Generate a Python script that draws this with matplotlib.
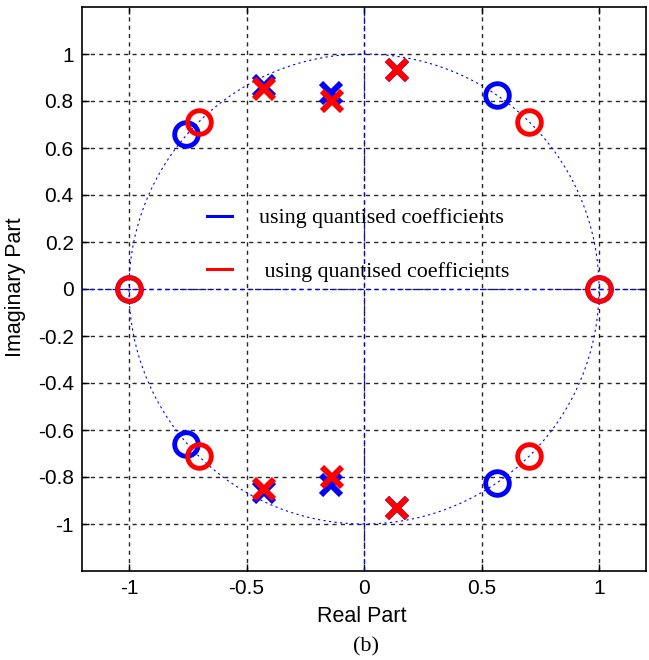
import numpy as np
import matplotlib
matplotlib.use("Agg")
import matplotlib.pyplot as plt
from matplotlib.lines import Line2D

# Zeros (o) and poles (x): ideal vs quantised coefficients
zeros_blue_re = [-0.758, 0.567, -1.0, 1.0, -0.758, 0.567]
zeros_blue_im = [0.658, 0.825, 0.0, 0.0, -0.658, -0.825]
zeros_red_re = [-0.703, 0.703, -1.0, 1.0, -0.703, 0.703]
zeros_red_im = [0.712, 0.712, 0.0, 0.0, -0.712, -0.712]
poles_blue_re = [-0.425, -0.14, 0.139, -0.425, -0.14, 0.139]
poles_blue_im = [0.862, 0.836, 0.933, -0.862, -0.836, -0.933]
poles_red_re = [-0.427, -0.137, 0.139, -0.427, -0.137, 0.139]
poles_red_im = [0.853, 0.800, 0.933, -0.853, -0.800, -0.933]

xticks = [-1, -0.5, 0, 0.5, 1]
xtick_labels = ["-1", "-0.5", "0", "0.5", "1"]
yticks = [-1, -0.8, -0.6, -0.4, -0.2, 0, 0.2, 0.4, 0.6, 0.8, 1]
ytick_labels = ["-1", "-0.8", "-0.6", "-0.4", "-0.2", "0", "0.2", "0.4", "0.6", "0.8", "1"]
legend_labels = ["using quantised coefficients", " using quantised coefficients"]

sans = "Liberation Sans"
serif = "Liberation Serif"

fig = plt.figure(figsize=(6.49, 6.60), dpi=100)
fig.patch.set_facecolor("white")
ax = fig.add_axes([82 / 649, 1 - 571 / 660, 564 / 649, 564 / 660])

ax.set_xlim(-1.2, 1.2)
ax.set_ylim(-1.2, 1.2)

# grid
ax.set_xticks(xticks)
ax.set_yticks(yticks)
ax.grid(True, color="black", linestyle=(0, (3, 3)), linewidth=1.0, alpha=0.85)
ax.set_axisbelow(True)

# unit circle and axes through origin
t = np.linspace(0, 2 * np.pi, 400)
ax.plot(np.cos(t), np.sin(t), color="blue", linestyle=(0, (2, 3)), linewidth=0.8, zorder=2)
ax.axhline(0, color="blue", linestyle=(0, (3, 3)), linewidth=0.9, zorder=2)
ax.axvline(0, color="blue", linestyle=(0, (3, 3)), linewidth=0.9, zorder=2)

ms_o = 17
mew_o = 3.5
ms_x = 14
mew_x = 4.3
ax.plot(zeros_blue_re, zeros_blue_im, linestyle="none", marker="o", markersize=ms_o,
        markerfacecolor="none", markeredgecolor="blue", markeredgewidth=mew_o, zorder=3)
ax.plot(zeros_red_re, zeros_red_im, linestyle="none", marker="o", markersize=ms_o,
        markerfacecolor="none", markeredgecolor="red", markeredgewidth=mew_o, zorder=4)
ax.plot(poles_blue_re, poles_blue_im, linestyle="none", marker="x", markersize=ms_x,
        color="blue", markeredgewidth=mew_x, zorder=3)
ax.plot(poles_red_re, poles_red_im, linestyle="none", marker="x", markersize=ms_x,
        color="red", markeredgewidth=mew_x, zorder=4)

ax.set_xticklabels(xtick_labels, fontsize=15, family=sans)
ax.set_yticklabels(ytick_labels, fontsize=15, family=sans)
ax.tick_params(direction="in", length=5, width=1, top=True, right=True, pad=6)
for s in ax.spines.values():
    s.set_linewidth(1.2)
    s.set_color("black")

fig.text(362 / 649, 1 - 616 / 660, "Real Part", ha="center", va="center",
         fontsize=15.5, family=sans)
fig.text(16 / 649, 1 - 287 / 660, "Imaginary Part", ha="center", va="center",
         rotation=90, fontsize=15.5, family=sans)
fig.text(366 / 649, 1 - 647 / 660, "(b)", ha="center", va="center",
         fontsize=16, family=serif)

handles = [Line2D([], [], color="blue", linewidth=2.2),
           Line2D([], [], color="red", linewidth=2.2)]
leg = ax.legend(handles, legend_labels, loc="upper left",
                bbox_to_anchor=((207 - 82) / 564, (571 - 208) / 564),
                frameon=False, prop={"family": serif, "size": 15.8},
                handlelength=1.15, handletextpad=1.2, labelspacing=1.5,
                borderpad=0, borderaxespad=0)

fig.savefig("out.png", dpi=100, facecolor=fig.get_facecolor())
